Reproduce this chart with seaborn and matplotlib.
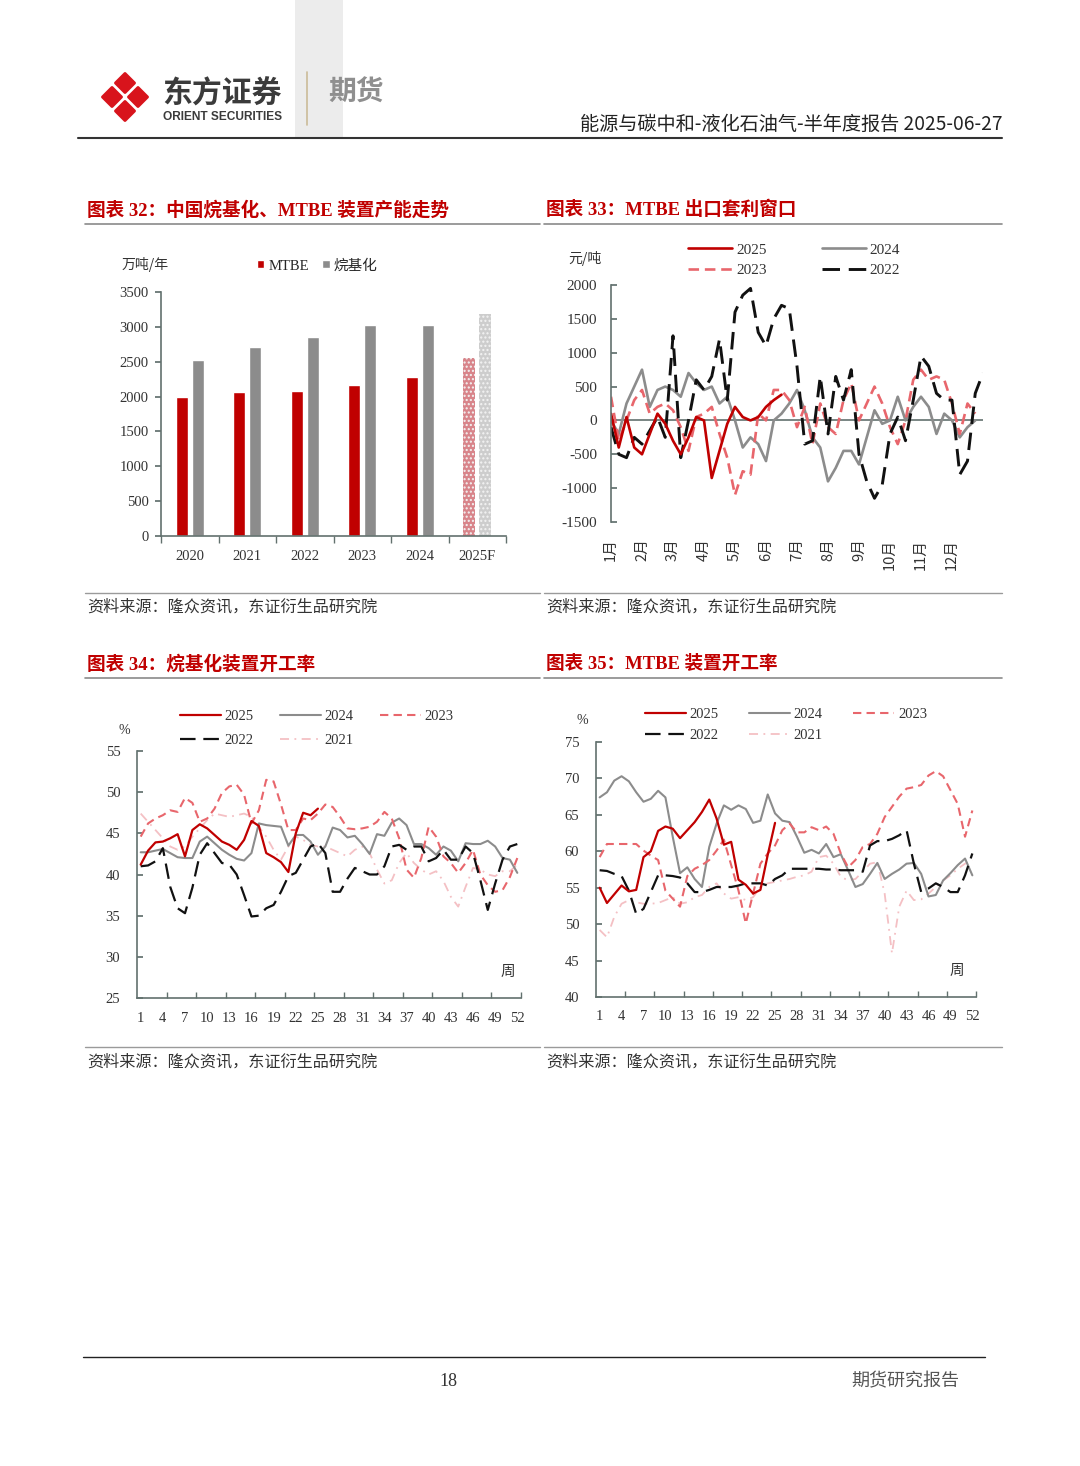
import matplotlib
matplotlib.use('Agg')
import numpy as np
import pandas as pd
import seaborn as sns
import matplotlib.pyplot as plt
from matplotlib.patches import Polygon, Rectangle, Patch
from matplotlib.lines import Line2D

# ---------------- data ----------------
# Chart 32: capacity (万吨/年)
years32 = ['2020', '2021', '2022', '2023', '2024', '2025F']
mtbe_cap = [2000, 2070, 2080, 2160, 2280, 2550]
alky_cap = [2530, 2710, 2860, 3020, 3030, 3180]

# Chart 33: MTBE export arbitrage window (元/吨), sampled every quarter month
month_labels = ['1月', '2月', '3月', '4月', '5月', '6月', '7月', '8月', '9月', '10月', '11月', '12月']
arb_2025 = [100, -400, 50, -400, -500, -200, 100, -50, -300, -500, -250, 50,
            0, -850, -450, -50, 200, 50, 0, 50, 200, 300, 380]
arb_2024 = [0, -200, 250, 500, 750, 200, 450, 500, 450, 350, 700, 550,
            450, 500, 250, 350, 0, -400, -250, -350, -600, 0, 100, 250,
            450, 150, -250, -400, -900, -700, -450, -450, -650, -250, 150, -50,
            0, 350, 0, 200, 350, 200, -200, 100, 0, -250, -100, 0]
arb_2023 = [350, -300, 0, 300, 450, 100, 200, 250, 150, -100, -450, 50,
            100, 200, -200, -550, -1100, -750, -800, 100, 0, 450, 450, 300,
            -100, 200, -350, 250, -100, -200, 300, 550, 0, 250, 500, 250,
            -100, -350, 0, 600, 750, 600, 650, 600, 250, -200, 250, 100]
arb_2022 = [-100, -500, -550, -250, -350, -150, 50, -250, 1250, -550, 0, 600,
            450, 650, 1200, 300, 1600, 1850, 1950, 1300, 1100, 1500, 1700, 1650,
            800, -350, -300, 650, -200, 650, 300, 750, -500, -900, -1150, -950,
            -200, 50, -300, 300, 950, 800, 400, 300, 300, -800, -600, 400, 700]

# Chart 34: alkylation operating rate (%), weekly
alky_2025 = [41.2, 42.9, 43.9, 44.0, 44.4, 44.9, 42.2, 45.4, 46.1, 45.6, 44.8, 44.0, 43.6,
             43.0, 44.2, 46.5, 45.9, 42.6, 42.1, 41.5, 40.3, 45.0, 47.5, 47.2, 48.0]
alky_2024 = [42.7, 42.7, 42.9, 43.1, 42.6, 42.1, 42.0, 42.0, 44.0, 44.6, 43.8, 43.0, 42.4,
             41.9, 41.7, 42.6, 46.2, 46.0, 45.9, 45.8, 43.5, 44.8, 44.8, 44.0, 42.4, 43.4,
             45.7, 45.4, 44.5, 44.7, 43.7, 42.5, 44.9, 44.7, 46.3, 46.8, 46.0, 43.7, 43.7,
             43.2, 42.4, 43.4, 42.9, 41.6, 43.8, 43.7, 43.7, 44.1, 43.4, 42.0, 41.8, 40.2]
alky_2023 = [44.6, 46.2, 46.8, 47.2, 47.8, 47.6, 49.3, 48.7, 46.4, 46.8, 48.0, 49.9, 50.7,
             50.9, 49.7, 46.2, 47.8, 51.5, 51.3, 48.5, 45.4, 45.4, 46.8, 46.6, 47.4, 48.5,
             48.2, 47.0, 45.6, 45.5, 45.6, 45.8, 46.4, 47.6, 46.8, 44.4, 40.6, 39.6, 42.0,
             45.8, 44.6, 42.2, 41.4, 40.2, 41.4, 43.0, 40.0, 38.7, 37.9, 38.1, 39.7, 42.0]
alky_2022 = [41.0, 41.1, 41.6, 43.2, 38.5, 35.9, 35.3, 38.4, 42.4, 43.8, 42.6, 41.4, 41.2,
             40.0, 37.5, 34.9, 35.0, 35.9, 36.3, 37.9, 39.8, 40.2, 41.8, 43.4, 43.8, 42.6,
             37.9, 37.9, 39.5, 40.8, 40.4, 40.0, 40.0, 41.0, 43.4, 43.6, 43.0, 43.4, 43.4,
             41.6, 42.0, 43.0, 41.8, 41.8, 43.4, 42.6, 39.3, 35.7, 38.9, 41.8, 43.4, 43.7]
alky_2021 = [47.4, 46.4, 45.4, 44.4, 43.4, 43.0, 43.4, 44.6, 45.6, 46.6, 47.4, 47.2, 47.0,
             47.2, 47.4, 47.0, 45.8, 44.6, 43.0, 41.8, 43.4, 44.6, 44.2, 43.6, 43.4, 43.4,
             43.0, 42.6, 42.2, 43.0, 43.4, 42.6, 40.6, 38.9, 39.3, 41.4, 42.6, 41.4, 40.6,
             40.0, 40.4, 39.2, 37.3, 36.1, 38.5, 40.8, 40.6, 40.0, 39.8, 40.4, 40.4, 41.2]

# Chart 35: MTBE operating rate (%), weekly
mtbe_2025 = [55.0, 52.9, 54.1, 55.3, 54.5, 54.7, 59.2, 60.0, 62.8, 63.4, 63.1, 61.8, 62.9,
             64.0, 65.4, 67.1, 64.5, 60.9, 61.3, 56.1, 55.4, 54.2, 54.7, 59.5, 63.9]
mtbe_2024 = [67.4, 68.1, 69.7, 70.3, 69.6, 68.1, 66.8, 67.2, 68.3, 67.4, 62.0, 57.0, 57.8,
             56.2, 55.1, 60.6, 63.8, 66.3, 65.7, 66.3, 65.8, 63.9, 64.2, 67.8, 65.2, 64.2,
             64.0, 62.0, 59.8, 60.2, 59.7, 61.0, 59.2, 59.6, 57.4, 55.1, 55.5, 56.9, 58.4,
             56.2, 56.9, 57.5, 58.3, 58.4, 56.9, 53.8, 54.0, 56.0, 57.0, 58.1, 59.0, 56.7]
mtbe_2023 = [59.2, 61.0, 61.0, 61.0, 61.0, 61.0, 60.1, 59.4, 58.8, 54.6, 53.5, 52.4, 56.6,
             57.6, 58.1, 58.8, 60.1, 61.6, 58.1, 54.6, 50.1, 54.2, 58.3, 59.7, 60.8, 62.9,
             63.8, 62.6, 62.6, 63.3, 62.9, 63.4, 62.4, 59.7, 57.8, 58.8, 60.6, 61.0, 62.4,
             64.7, 66.1, 67.5, 68.6, 68.8, 69.1, 70.4, 71.0, 70.3, 68.4, 66.5, 62.0, 65.6]
mtbe_2022 = [57.4, 57.3, 56.9, 56.6, 54.6, 51.4, 52.1, 54.4, 56.7, 56.7, 56.6, 56.4, 55.6,
             54.4, 54.4, 54.7, 55.1, 55.1, 55.1, 55.3, 55.6, 55.6, 55.6, 55.3, 56.2, 56.7,
             57.6, 57.6, 57.6, 57.6, 57.6, 57.5, 57.5, 57.4, 57.4, 57.4, 57.2, 60.8, 61.4,
             61.4, 61.7, 62.2, 62.9, 58.3, 54.4, 54.9, 55.6, 55.1, 54.4, 54.4, 56.7, 59.7]
mtbe_2021 = [49.2, 48.2, 51.0, 52.8, 53.3, 53.0, 52.8, 52.8, 52.9, 53.3, 53.7, 52.8, 53.0,
             53.7, 54.0, 55.1, 55.6, 54.2, 53.5, 53.7, 53.3, 53.7, 55.1, 55.6, 55.8, 56.0,
             56.2, 56.5, 56.7, 57.2, 59.2, 59.4, 58.3, 56.5, 56.0, 56.2, 57.2, 58.3, 58.5,
             54.2, 46.0, 52.4, 54.6, 53.3, 53.4, 54.2, 55.1, 56.0, 56.7, 57.6, 58.3, 58.8]
week_labels = list(range(1, 53, 3))

# ---------------- style ----------------
RED = '#c00000'
GRAY = '#8c8c8c'
R23 = '#e8666c'
BLK = '#111111'
PINK = '#f4c0c4'
AX = '#62716e'
TITLE = '#c00000'

W, H = 1080, 1466
def fx(x): return x / W
def fy(y): return 1 - y / H
def rect(x0, y0, x1, y1): return [x0 / W, 1 - y1 / H, (x1 - x0) / W, (y1 - y0) / H]

sns.set_theme(style='white')
plt.rcParams['font.family'] = ['Liberation Serif', 'Noto Sans CJK SC']
plt.rcParams['axes.unicode_minus'] = False
CJK = ['Noto Sans CJK SC', 'DejaVu Sans']

fig = plt.figure(figsize=(10.8, 14.66), dpi=100)
fig.patch.set_facecolor('white')

def hline(x0, x1, y, color, lw):
    fig.add_artist(Line2D([fx(x0), fx(x1)], [fy(y), fy(y)], color=color, lw=lw,
                          transform=fig.transFigure))

# ---------------- header ----------------
fig.add_artist(Rectangle((fx(295), fy(138)), (343 - 295) / W, 138 / H, transform=fig.transFigure,
                         facecolor='#ececec', edgecolor='none', zorder=0))
cx, cy, offx, offy, hd = 125, 97, 13.0, 14.0, 9.6
for dx, dy in [(0, -offy), (-offx, 0), (offx, 0), (0, offy)]:
    px, py = cx + dx, cy + dy
    pts = [(fx(px), fy(py - hd)), (fx(px + hd), fy(py)), (fx(px), fy(py + hd)), (fx(px - hd), fy(py))]
    fig.add_artist(Polygon(pts, closed=True, transform=fig.transFigure, facecolor='#d8141c',
                           edgecolor='#d8141c', lw=2.0, joinstyle='round'))
fig.text(fx(162), fy(94), '东方证券', fontsize=21.5, fontweight='bold', color='#3b3b3b',
         family=CJK, va='center', ha='left')
fig.text(fx(163), fy(117), 'ORIENT SECURITIES', fontsize=8.6, fontweight='bold', color='#3b3b3b',
         family=['Liberation Sans'], va='center', ha='left')
fig.add_artist(Line2D([fx(307), fx(307)], [fy(72), fy(125)], color='#cbbb98', lw=1.2,
                      transform=fig.transFigure))
fig.text(fx(328), fy(93), '期货', fontsize=20, fontweight='bold', color='#8f8f8f',
         family=CJK, va='center', ha='left')
fig.text(fx(1002), fy(124), '能源与碳中和-液化石油气-半年度报告 2025-06-27', ha='right', va='center',
         fontsize=13.8, family=CJK, color='#222222')
hline(78, 1002, 138, '#333333', 1.5)

# ---------------- section frames ----------------
def section(x0, x1, ytitle, yline, ysrc_line, ysrc, title):
    fig.text(fx(x0 + 2), fy(ytitle), title, fontsize=13.4, fontweight='bold', color=TITLE,
             va='center', ha='left')
    hline(x0, x1, yline, '#8a8a8a', 1.2)
    hline(x0, x1, ysrc_line, '#9a9a9a', 1.0)
    fig.text(fx(x0 + 2), fy(ysrc), '资料来源：隆众资讯，东证衍生品研究院', fontsize=11.6, color='#333333',
             va='center', ha='left', family=CJK)

section(85, 540, 210, 224, 593, 607, '图表 32：中国烷基化、MTBE 装置产能走势')
section(544, 1002, 210, 224, 593, 607, '图表 33：MTBE 出口套利窗口')
section(85, 540, 664, 678, 1047, 1062, '图表 34：烷基化装置开工率')
section(544, 1002, 664, 678, 1047, 1062, '图表 35：MTBE 装置开工率')

def style_axes(ax):
    for s in ['top', 'right']:
        ax.spines[s].set_visible(False)
    for s in ['left', 'bottom']:
        ax.spines[s].set_color(AX)
        ax.spines[s].set_linewidth(1.2)
    ax.set_facecolor('none')
    ax.set_xlabel('')
    ax.set_ylabel('')

# ---------------- chart 32 ----------------
ax1 = fig.add_axes(rect(161, 292, 506, 536))
df32 = pd.DataFrame({'year': years32 * 2,
                     'type': ['MTBE'] * len(years32) + ['烷基化'] * len(years32),
                     'value': mtbe_cap + alky_cap})
sns.barplot(data=df32, x='year', y='value', hue='type', palette={'MTBE': RED, '烷基化': GRAY},
            width=0.56, gap=0.25, saturation=1, ax=ax1, legend=False)
for p in ax1.patches:
    c = p.get_x() + p.get_width() / 2
    if c > 4.5:
        if c < 5:
            p.set_facecolor('#d8848a')
        else:
            p.set_facecolor('#cdcdcd')
        p.set_hatch('....')
        p.set_edgecolor('#f3f3f3')
        p.set_linewidth(0)
ax1.set_xlim(-0.5, 5.5)
ax1.set_ylim(0, 3500)
ax1.set_yticks(range(0, 3501, 500))
ax1.set_xticks(np.arange(-0.5, 6, 1), minor=True)
style_axes(ax1)
ax1.tick_params(axis='x', which='major', bottom=True, length=0, pad=10, labelsize=10.5, labelcolor='#333333')
ax1.tick_params(axis='x', which='minor', bottom=True, length=5, direction='out', color=AX, width=1)
ax1.tick_params(axis='y', left=True, length=4, direction='out', color=AX, pad=5, labelsize=10.5,
                labelcolor='#333333')
fig.text(fx(145), fy(265), '万吨/年', fontsize=10, ha='center', va='center', family=CJK, color='#333333')
ax1.legend(handles=[Patch(facecolor=RED, label='MTBE'), Patch(facecolor=GRAY, label='烷基化')],
           ncol=2, frameon=False, fontsize=10.5, handlelength=0.5, handleheight=0.5,
           handletextpad=0.3, columnspacing=0.9, borderpad=0, borderaxespad=0,
           loc='upper left', bbox_to_anchor=(fx(257), fy(259)), bbox_transform=fig.transFigure)

# ---------------- chart 33 ----------------
ax2 = fig.add_axes(rect(611, 285, 983, 522))
rows = []
for yr, vals in [('2024', arb_2024), ('2023', arb_2023), ('2022', arb_2022), ('2025', arb_2025)]:
    for i, v in enumerate(vals):
        rows.append((yr, i / 4, v))
df33 = pd.DataFrame(rows, columns=['year', 'month', 'value'])
order33 = ['2024', '2023', '2022', '2025']
sns.lineplot(data=df33, x='month', y='value', hue='year', style='year', size='year',
             hue_order=order33, style_order=order33, size_order=order33,
             palette={'2025': RED, '2024': GRAY, '2023': R23, '2022': BLK},
             dashes={'2025': '', '2024': '', '2023': (4, 2.2), '2022': (6, 3)},
             sizes={'2025': 1.9, '2024': 1.9, '2023': 1.9, '2022': 2.1},
             estimator=None, ax=ax2, legend=False)
ax2.axhline(0, color=AX, lw=1.2, zorder=1)
ax2.set_xlim(0, 12)
ax2.set_ylim(-1500, 2000)
ax2.set_yticks(range(-1500, 2001, 500))
ax2.set_xticks(range(12))
ax2.set_xticklabels(month_labels, rotation=90, va='top', ha='center', family=CJK)
style_axes(ax2)
ax2.spines['bottom'].set_visible(False)
ax2.tick_params(axis='x', bottom=False, length=0, pad=12, labelsize=10.5, labelcolor='#333333')
ax2.tick_params(axis='y', left=True, length=4, direction='in', color=AX, pad=10, labelsize=11,
                labelcolor='#333333')
fig.text(fx(585), fy(258), '元/吨', fontsize=10, ha='center', va='center', family=CJK, color='#333333')

def leg(ax, items, anchor, ncol, fs, hl, colsp, labsp):
    handles = []
    for lab, col, lw, d in items:
        if d is None:
            handles.append(Line2D([], [], color=col, lw=lw, label=lab))
        else:
            handles.append(Line2D([], [], color=col, lw=lw, dashes=d, label=lab))
    ax.legend(handles=handles, ncol=ncol, frameon=False, fontsize=fs, handlelength=hl,
              handletextpad=0.25, columnspacing=colsp, labelspacing=labsp, borderpad=0,
              borderaxespad=0, loc='upper left', bbox_to_anchor=(fx(anchor[0]), fy(anchor[1])),
              bbox_transform=fig.transFigure, labelcolor='#333333')

leg(ax2, [('2025', RED, 1.9, None), ('2023', R23, 1.9, (4, 2.2)),
          ('2024', GRAY, 1.9, None), ('2022', BLK, 2.1, (6, 3))],
    (688, 243), 2, 11, 2.9, 3.6, 0.45)

# ---------------- chart 34 & 35 ----------------
def rate_chart(axrect, series, ylim, yticks, legend_anchor, colsp, labsp, pct_xy, zhou_xy, xpad):
    ax = fig.add_axes(axrect)
    rows = []
    for yr, vals in series:
        for i, v in enumerate(vals):
            rows.append((yr, i + 1, v))
    df = pd.DataFrame(rows, columns=['year', 'week', 'value'])
    order = ['2021', '2024', '2023', '2022', '2025']
    sns.lineplot(data=df, x='week', y='value', hue='year', style='year', size='year',
                 hue_order=order, style_order=order, size_order=order,
                 palette={'2025': RED, '2024': GRAY, '2023': R23, '2022': BLK, '2021': PINK},
                 dashes={'2025': '', '2024': '', '2023': (4, 2.5), '2022': (7, 3.5),
                         '2021': (5, 3, 1, 3)},
                 sizes={'2025': 1.6, '2024': 1.5, '2023': 1.5, '2022': 1.6, '2021': 1.3},
                 estimator=None, ax=ax, legend=False)
    ax.set_xlim(0.5, 52.5)
    ax.set_ylim(*ylim)
    ax.set_yticks(yticks)
    ax.set_xticks(week_labels)
    ax.set_xticks(np.arange(4.5, 53, 4), minor=True)
    style_axes(ax)
    ax.tick_params(axis='x', which='major', bottom=True, length=0, pad=xpad, labelsize=10.5,
                   labelcolor='#333333')
    ax.tick_params(axis='x', which='minor', bottom=True, length=4, direction='in', color=AX, width=1)
    ax.tick_params(axis='y', left=True, length=4, direction='in', color=AX, pad=12, labelsize=10.5,
                   labelcolor='#333333')
    leg(ax, [('2025', RED, 1.6, None), ('2022', BLK, 1.6, (7, 3.5)),
             ('2024', GRAY, 1.5, None), ('2021', PINK, 1.3, (5, 3, 1, 3)),
             ('2023', R23, 1.5, (4, 2.5))],
        legend_anchor, 3, 10.5, 2.8, colsp, labsp)
    fig.text(fx(pct_xy[0]), fy(pct_xy[1]), '%', fontsize=10, ha='center', va='center', color='#333333')
    fig.text(fx(zhou_xy[0]), fy(zhou_xy[1]), '周', fontsize=10.5, ha='center', va='center',
             family=CJK, color='#333333')
    return ax

rate_chart(rect(137, 751, 521, 998),
           [('2025', alky_2025), ('2024', alky_2024), ('2023', alky_2023),
            ('2022', alky_2022), ('2021', alky_2021)],
           (25, 55), range(25, 56, 5), (180, 710), 1.8, 0.75, (124, 730), (508, 972), 10)
rate_chart(rect(596, 742, 976, 997),
           [('2025', mtbe_2025), ('2024', mtbe_2024), ('2023', mtbe_2023),
            ('2022', mtbe_2022), ('2021', mtbe_2021)],
           (40, 75), range(40, 76, 5), (645, 708), 2.1, 0.5, (582, 720), (957, 971), 9)

# ---------------- footer ----------------
hline(83, 985, 1357, '#222222', 1.0)
fig.text(fx(448), fy(1381), '18', fontsize=13, ha='center', va='center', color='#333333')
fig.text(fx(905), fy(1381), '期货研究报告', fontsize=13, ha='center', va='center', family=CJK,
         color='#555555')

fig.savefig('out.png', dpi=100, facecolor='white')
